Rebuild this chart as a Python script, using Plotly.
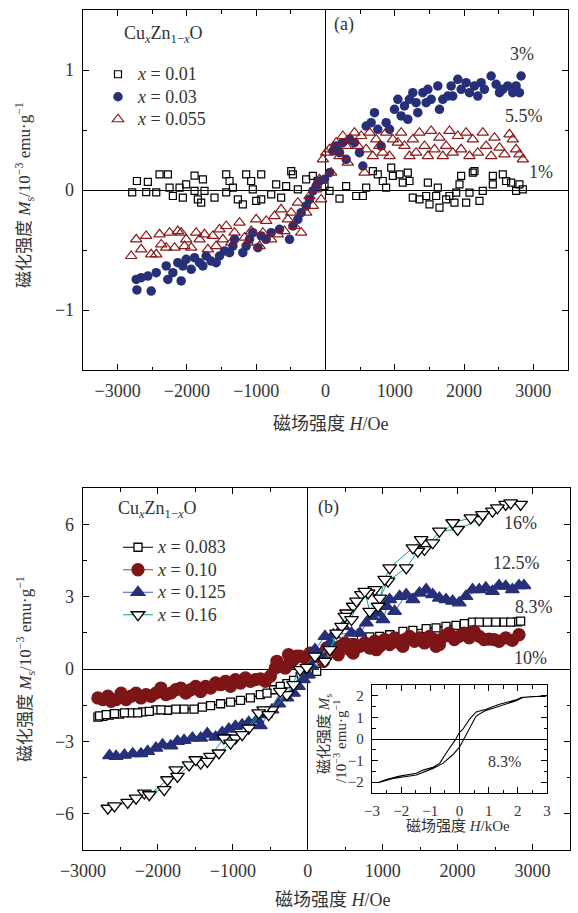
import plotly.graph_objects as go

# ---------------- data: panel (a) ----------------
h_001 = [-2790, -2722, -2588, -2564, -2443, -2395, -2275, -2251, -2203, -2107, -2059, -2011, -1890, -1890,
         -1842, -1794, -1770, -1746, -1602, -1433, -1433, -1385, -1337, -1265, -1193, -1145, -1073, -1049,
         -1000, -928, -928, -784, -712, -640, -568, -495, -471, -399, -279, -183, -111, -14, 58, 202, 298,
         443, 539, 587, 683, 755, 827, 875, 948, 972, 1068, 1116, 1188, 1212, 1260, 1356, 1453, 1477, 1501,
         1597, 1621, 1645, 1741, 1789, 1861, 1886, 1934, 1958, 2030, 2078, 2126, 2150, 2222, 2270, 2415,
         2415, 2559, 2607, 2679, 2751, 2799, 2848]
m_001 = [-0.02, 0.075, -0.017, 0.067, -0.02, 0.13, 0.13, 0.02, -0.05, 0.02, -0.064, 0.047, 0.12, -0.008,
         -0.078, -0.105, 0.089, -0.008, -0.064, 0.13, -0.02, 0.075, 0.02, -0.078, -0.12, 0.13, 0.075, 0.006,
         -0.09, -0.078, 0.13, -0.036, 0.047, -0.064, 0.033, 0.158, 0.13, 0.006, 0.089, 0.117, 0.075, 0.033,
         -0.008, -0.072, 0.033, -0.05, -0.05, 0.02, 0.158, 0.13, 0.075, 0.02, 0.186, 0.117, 0.13, 0.061,
         0.144, 0.075, -0.064, -0.078, -0.05, 0.061, -0.12, -0.05, 0.02, -0.147, -0.078, -0.05, -0.105,
         -0.022, 0.047, 0.117, -0.105, -0.022, 0.144, 0.158, -0.09, -0.008, 0.117, 0.047, 0.13, 0.075,
         0.061, -0.008, 0.047, 0.006]

h_003 = [-2732, -2722, -2660, -2564, -2516, -2443, -2299, -2275, -2203, -2131, -2083, -2059, -2011, -1938,
         -1890, -1818, -1770, -1722, -1650, -1578, -1530, -1457, -1385, -1337, -1313, -1193, -1145, -1097,
         -1049, -976, -928, -856, -784, -664, -519, -471, -399, -351, -279, -231, -183, -135, -87, -14, 58,
         106, 154, 202, 250, 298, 346, 418, 491, 539, 587, 659, 707, 755, 803, 875, 924, 996, 1044, 1092,
         1140, 1188, 1212, 1260, 1308, 1332, 1405, 1453, 1477, 1525, 1621, 1645, 1693, 1765, 1813, 1837,
         1910, 1958, 2030, 2078, 2150, 2198, 2246, 2294, 2391, 2463, 2511, 2559, 2631, 2703, 2751, 2799, 2823]
m_003 = [-0.745, -0.833, -0.731, -0.717, -0.842, -0.689, -0.633, -0.745, -0.689, -0.606, -0.758, -0.633,
         -0.578, -0.661, -0.564, -0.606, -0.633, -0.55, -0.592, -0.606, -0.55, -0.508, -0.522, -0.467, -0.411,
         -0.522, -0.467, -0.411, -0.356, -0.481, -0.383, -0.411, -0.356, -0.328, -0.411, -0.3, -0.244,
         -0.189, -0.133, -0.078, -0.008, 0.033, 0.075, 0.089, 0.144, 0.325, 0.367, 0.311, 0.394, 0.256,
         0.422, 0.394, 0.311, 0.2, 0.533, 0.561, 0.644, 0.506, 0.367, 0.561, 0.506, 0.672, 0.756, 0.617,
         0.7, 0.589, 0.756, 0.811, 0.728, 0.644, 0.811, 0.728, 0.839, 0.756, 0.867, 0.672, 0.756, 0.783,
         0.867, 0.783, 0.922, 0.839, 0.894, 0.811, 0.867, 0.783, 0.894, 0.839, 0.95, 0.881, 0.811, 0.839,
         0.867, 0.811, 0.867, 0.811, 0.95]

h_0055 = [-2804, -2732, -2660, -2588, -2516, -2443, -2395, -2371, -2299, -2251, -2179, -2131, -2083, -2035,
          -2011, -1938, -1866, -1818, -1746, -1698, -1626, -1578, -1530, -1481, -1433, -1361, -1313, -1241,
          -1169, -1121, -1073, -1000, -952, -904, -856, -784, -736, -688, -640, -592, -544, -495, -447, -399,
          -351, -279, -231, -183, -135, -87, -63, -38, 10, 58, 82, 154, 202, 250, 298, 322, 370, 418, 467,
          515, 563, 587, 635, 683, 731, 779, 827, 875, 924, 972, 1044, 1092, 1140, 1212, 1260, 1308, 1356,
          1429, 1477, 1525, 1573, 1645, 1693, 1741, 1789, 1837, 1910, 1958, 2030, 2078, 2126, 2198, 2270,
          2318, 2391, 2439, 2511, 2583, 2655, 2703, 2751, 2799, 2848]
m_0055 = [-0.55, -0.411, -0.494, -0.383, -0.536, -0.536, -0.369, -0.453, -0.481, -0.356, -0.481, -0.342,
          -0.356, -0.467, -0.411, -0.481, -0.356, -0.411, -0.369, -0.494, -0.383, -0.467, -0.328, -0.411,
          -0.3, -0.439, -0.356, -0.272, -0.397, -0.439, -0.342, -0.244, -0.467, -0.356, -0.258, -0.411,
          -0.217, -0.369, -0.161, -0.342, -0.244, -0.189, -0.3, -0.106, -0.356, -0.189, -0.05, -0.133,
          0.006, 0.089, -0.078, 0.256, 0.311, 0.339, 0.144, 0.394, 0.283, 0.45, 0.367, 0.228, 0.422, 0.478,
          0.367, 0.45, 0.144, 0.339, 0.478, 0.283, 0.422, 0.367, 0.311, 0.478, 0.283, 0.422, 0.394, 0.478,
          0.367, 0.283, 0.422, 0.311, 0.478, 0.367, 0.283, 0.492, 0.339, 0.436, 0.283, 0.367, 0.492, 0.311,
          0.45, 0.339, 0.478, 0.283, 0.422, 0.311, 0.478, 0.367, 0.283, 0.436, 0.353, 0.297, 0.464, 0.422,
          0.339, 0.297, 0.256]

# ---------------- data: panel (b) (sorted by field) ----------------
h_0083 = [-2801, -2779, -2735, -2690, -2646, -2580, -2513, -2447, -2359, -2270, -2204, -2115, -2027, -1960,
          -1872, -1761, -1651, -1518, -1407, -1297, -1164, -1031, -898, -766, -633, -544, -456, -367, -279,
          -190, -102, 9, 119, 208, 296, 429, 562, 717, 827, 960, 1093, 1270, 1403, 1580, 1712, 1845, 1978,
          2089, 2199, 2288, 2398, 2509, 2620, 2708, 2797, 2841]
m_0083 = [-1.99, -1.94, -1.96, -1.89, -1.91, -1.85, -1.87, -1.82, -1.82, -1.82, -1.78, -1.76, -1.69, -1.69,
          -1.71, -1.66, -1.66, -1.66, -1.58, -1.52, -1.44, -1.37, -1.30, -1.20, -1.06, -1.00, -0.86, -0.72,
          -0.61, -0.47, -0.33, -0.19, -0.10, 0.32, 0.66, 0.94, 1.08, 1.22, 1.33, 1.35, 1.42, 1.56, 1.60, 1.67,
          1.70, 1.77, 1.81, 1.88, 1.94, 1.94, 1.94, 1.94, 1.94, 1.94, 1.95, 1.98]

h_010 = [-2801, -2735, -2668, -2624, -2558, -2491, -2425, -2359, -2292, -2226, -2159, -2093, -2027, -1960,
         -1894, -1828, -1761, -1695, -1628, -1562, -1496, -1429, -1363, -1297, -1230, -1164, -1097, -1031,
         -965, -898, -832, -766, -699, -633, -566, -500, -434, -412, -367, -301, -257, -235, -190, -146, -102,
         -13, 31, 75, 119, 164, 208, 252, 341, 407, 429, 496, 562, 606, 628, 695, 761, 827, 894, 916, 960,
         1027, 1093, 1159, 1226, 1270, 1292, 1358, 1425, 1491, 1558, 1624, 1690, 1712, 1757, 1823, 1889,
         1956, 2022, 2089, 2155, 2221, 2288, 2354, 2420, 2487, 2553, 2642, 2730, 2819]
m_010 = [-1.20, -1.27, -1.13, -1.34, -1.27, -1.00, -1.27, -1.13, -1.00, -1.20, -1.06, -1.13, -1.00, -0.79,
         -1.06, -1.00, -0.86, -0.79, -1.00, -0.86, -0.72, -0.93, -0.72, -0.79, -0.58, -0.65, -0.51, -0.72,
         -0.44, -0.58, -0.37, -0.51, -0.44, -0.41, -0.51, -0.30, 0.04, 0.32, 0.11, 0.04, 0.59, 0.25, 0.39,
         0.53, 0.53, 0.39, 0.66, 0.66, 0.53, 0.59, 0.32, 0.87, 0.80, 0.59, 0.94, 1.08, 0.80, 0.66, 1.01, 0.94,
         1.08, 0.87, 1.15, 0.80, 0.94, 1.22, 1.01, 1.29, 1.08, 0.94, 1.22, 1.35, 1.15, 1.29, 1.08, 1.35, 1.22,
         0.94, 1.01, 1.35, 1.49, 1.22, 1.35, 1.49, 1.29, 1.56, 1.35, 1.22, 1.24, 1.22, 1.15, 1.29, 1.19, 1.42]

h_0125 = [-2646, -2558, -2447, -2336, -2226, -2137, -2027, -1938, -1828, -1739, -1651, -1540, -1429, -1341,
          -1230, -1142, -1053, -965, -876, -788, -677, -633, -566, -478, -389, -279, -190, -124, -58, 9, 53,
          97, 164, 230, 296, 341, 473, 584, 695, 783, 850, 938, 1004, 1049, 1093, 1159, 1226, 1314, 1403,
          1491, 1580, 1668, 1757, 1845, 1934, 2022, 2111, 2199, 2288, 2376, 2465, 2553, 2642, 2730, 2819, 2885]
m_0125 = [-3.59, -3.62, -3.57, -3.51, -3.51, -3.41, -3.28, -3.14, -3.18, -3.00, -2.96, -2.86, -2.86, -2.68,
          -2.82, -2.63, -2.49, -2.38, -2.31, -2.21, -2.10, -2.35, -1.89, -1.69, -1.44, -1.20, -1.00, -0.72,
          -0.44, -0.24, 0.11, 0.80, 0.53, 1.35, 1.08, 1.42, 1.77, 1.49, 1.49, 1.91, 2.18, 2.32, 2.05, 2.60,
          2.88, 2.39, 3.01, 3.08, 2.88, 3.15, 3.29, 3.08, 2.94, 2.88, 2.81, 2.74, 3.01, 3.29, 3.29, 3.36, 3.22,
          3.46, 3.43, 3.29, 3.46, 3.46]

h_016 = [-2668, -2580, -2403, -2292, -2182, -2115, -1916, -1872, -1761, -1739, -1584, -1496, -1429, -1341,
         -1297, -1186, -1120, -1031, -965, -876, -788, -655, -589, -522, -478, -367, -279, -190, -102, -13, 97,
         230, 296, 385, 451, 496, 518, 584, 606, 650, 717, 761, 805, 827, 894, 938, 960, 1027, 1071, 1093,
         1314, 1403, 1469, 1513, 1558, 1668, 1757, 1934, 2000, 2177, 2288, 2332, 2465, 2531, 2642, 2708, 2841]
m_016 = [-5.77, -5.67, -5.53, -5.35, -5.14, -5.21, -5.00, -4.59, -4.18, -4.45, -3.97, -3.76, -3.90, -3.83,
         -3.62, -3.48, -2.86, -3.07, -2.86, -2.72, -2.45, -1.82, -1.69, -1.89, -1.69, -0.93, -1.06, -0.65,
         -0.03, 0.07, 0.53, 0.32, 0.80, 1.49, 1.77, 2.18, 2.32, 2.05, 2.60, 2.81, 3.08, 3.22, 3.15, 2.39, 3.29,
         2.60, 2.94, 3.71, 3.64, 4.19, 4.19, 5.02, 4.88, 5.36, 4.95, 5.23, 5.71, 6.06, 5.78, 6.26, 6.19, 6.40,
         6.54, 6.68, 6.82, 6.88, 6.82]

# ---------------- data: inset (x = 0.083, kOe) ----------------
h_in_down = [2.97, 2.51, 2.11, 1.94, 1.37, 0.91, 0.57, 0.34, 0.11, 0.0, -0.14, -0.29, -0.46, -0.68, -0.91,
             -1.25, -1.48, -2.05, -2.51, -2.79]
m_in_down = [1.97, 1.97, 1.92, 1.81, 1.61, 1.38, 1.25, 0.91, 0.44, 0.31, -0.03, -0.31, -0.66, -1.13, -1.31,
             -1.44, -1.59, -1.72, -1.88, -2.02]
h_in_up = [-2.79, -2.28, -1.48, -0.91, -0.57, -0.23, 0.0, 0.14, 0.29, 0.57, 0.86, 1.37, 1.94, 2.17, 2.97]
m_in_up = [-2.02, -1.83, -1.67, -1.36, -1.13, -0.73, -0.38, -0.03, 0.36, 1.06, 1.30, 1.53, 1.77, 1.92, 2.00]

legend_a = ["<i>x</i> = 0.01", "<i>x</i> = 0.03", "<i>x</i> = 0.055"]
legend_b = ["<i>x</i> = 0.083", "<i>x</i> = 0.10", "<i>x</i> = 0.125", "<i>x</i> = 0.16"]


def loop(h, m):
    """Order sorted points as a hysteresis sweep: down branch then up branch."""
    down_h, down_m = h[::2][::-1], m[::2][::-1]
    up_h, up_m = h[1::2], m[1::2]
    return down_h + up_h, down_m + up_m


def big(t):
    return '<span style="font-size:18px">' + t + '</span>'


W, H = 578, 913
FONT = "Liberation Serif, Noto Sans CJK SC, serif"
TXT = "#333333"

fig = go.Figure()

# panel (a)
fig.add_trace(go.Scatter(x=h_001, y=m_001, mode="markers", name=big(legend_a[0]), legend="legend",
                         marker=dict(symbol="square-open", size=7, color="black", line=dict(width=1.2)),
                         xaxis="x", yaxis="y"))
fig.add_trace(go.Scatter(x=h_003, y=m_003, mode="markers", name=big(legend_a[1]), legend="legend",
                         marker=dict(symbol="circle", size=9.5, color="#262f78"),
                         xaxis="x", yaxis="y"))
fig.add_trace(go.Scatter(x=h_0055, y=m_0055, mode="markers", name=big(legend_a[2]), legend="legend",
                         marker=dict(symbol="triangle-up-open", size=10, color="#8b1a1a", line=dict(width=1.2)),
                         xaxis="x", yaxis="y"))

# panel (b)
series_b = [
    (h_0083, m_0083, "square", 8, "white", "black", "black"),
    (h_010, m_010, "circle", 12, "#7d1416", "#7d1416", "#e8262a"),
    (h_0125, m_0125, "triangle-up", 12, "#262f78", "#262f78", "#3c5bc8"),
    (h_016, m_016, "triangle-down", 12, "white", "black", "#1a9a9a"),
]
for (hh, mm, sym, sz, fill, edge, lc), nm in zip(series_b, legend_b):
    lx, ly = loop(hh, mm)
    fig.add_trace(go.Scatter(x=lx, y=ly, mode="lines+markers", name=big(nm), legend="legend2",
                             line=dict(color=lc, width=1),
                             marker=dict(symbol=sym, size=sz, color=fill, line=dict(color=edge, width=1.3)),
                             xaxis="x2", yaxis="y2"))

# inset
fig.add_trace(go.Scatter(x=h_in_down + h_in_up, y=m_in_down + m_in_up, mode="lines", showlegend=False,
                         line=dict(color="black", width=1.1), xaxis="x3", yaxis="y3"))


def ax(domain, rng, dtick, minor, anchor, size=18):
    return dict(domain=domain, range=rng, dtick=dtick, tick0=0, anchor=anchor, automargin=False,
                ticks="inside", ticklen=6, tickwidth=1, tickcolor="black",
                minor=dict(dtick=minor, ticks="inside", ticklen=3.5, tickwidth=1, tickcolor="black", showgrid=False),
                showline=True, linecolor="black", linewidth=1.3, mirror="allticks",
                showgrid=False, zeroline=True, zerolinecolor="black", zerolinewidth=1,
                tickfont=dict(family=FONT, size=size, color=TXT), ticklabelstandoff=4)


fig.update_layout(
    template="none",
    width=W, height=H, margin=dict(l=0, r=0, t=0, b=0, autoexpand=False),
    paper_bgcolor="white", plot_bgcolor="white",
    font=dict(family=FONT, color=TXT),
    xaxis=ax([83 / W, 568 / W], [-3500, 3500], 1000, 500, "y"),
    yaxis=ax([1 - 370 / H, 1 - 10 / H], [-1.5, 1.5], 1, 0.5, "x"),
    xaxis2=ax([83 / W, 570 / W], [-3000, 3500], 1000, 500, "y2"),
    yaxis2=ax([1 - 850 / H, 1 - 488 / H], [-7.5, 7.5], 3, 1.5, "x2"),
    xaxis3=ax([372 / W, 547 / W], [-3, 3], 1, 0.5, "y3", size=15),
    yaxis3=ax([1 - 793 / H, 1 - 685 / H], [-2.5, 2.5], 1, 0.5, "x3", size=15),
    legend=dict(x=98 / W, y=1 - 58 / H, xanchor="left", yanchor="top", bgcolor="rgba(0,0,0,0)",
                font=dict(family=FONT, size=15, color=TXT), itemsizing="trace"),
    legend2=dict(x=118 / W, y=1 - 531 / H, xanchor="left", yanchor="top", bgcolor="rgba(0,0,0,0)",
                 font=dict(family=FONT, size=15, color=TXT), itemsizing="trace"),
    hovermode=False,
)

title_cu = "Cu<sub><i>x</i></sub>Zn<sub>1−<i>x</i></sub>O"
ytitle = "磁化强度 <i>M</i><sub>s</sub>/10<sup>−3</sup> emu·g<sup>−1</sup>"
xtitle = "磁场强度 <i>H</i>/Oe"


def ann(text, x, y, xref, yref, size=18, angle=0):
    fig.add_annotation(text=text, x=x, y=y, xref=xref, yref=yref, showarrow=False, textangle=angle,
                       font=dict(family=FONT, size=size, color=TXT), xanchor="center", yanchor="middle")


# panel (a) texts
ann(title_cu, -2338, 1.30, "x", "y")
ann("(a)", 274, 1.38, "x", "y")
ann("3%", 2843, 1.13, "x", "y")
ann("5.5%", 2872, 0.62, "x", "y")
ann("1%", 3117, 0.15, "x", "y")
ann(ytitle, 25 / W, 1 - 195 / H, "paper", "paper", 17, -90)
ann(xtitle, 331 / W, 1 - 424 / H, "paper", "paper", 18)

# panel (b) texts
ann(title_cu, -2000, 6.59, "x2", "y2")
ann("(b)", 270, 6.71, "x2", "y2")
ann("16%", 2845, 6.05, "x2", "y2")
ann("12.5%", 2782, 4.40, "x2", "y2")
ann("8.3%", 3018, 2.58, "x2", "y2")
ann("10%", 2977, 0.47, "x2", "y2")
ann(ytitle, 25 / W, 1 - 669 / H, "paper", "paper", 17, -90)
ann(xtitle, 333 / W, 1 - 900 / H, "paper", "paper", 18)

# inset texts
ann("8.3%", 1.54, -1.05, "x3", "y3", 16)
ann("磁化强度 <i>M</i><sub>s</sub>", 325 / W, 1 - 734 / H, "paper", "paper", 15, -90)
ann("/10<sup>−3</sup> emu·g<sup>−1</sup>", 340 / W, 1 - 741 / H, "paper", "paper", 15, -90)
ann("磁场强度 <i>H</i>/kOe", 458 / W, 1 - 826 / H, "paper", "paper", 15)

fig.write_html("out.html", config={"displayModeBar": False, "staticPlot": True},
               post_script="document.body.style.margin='0px';")
